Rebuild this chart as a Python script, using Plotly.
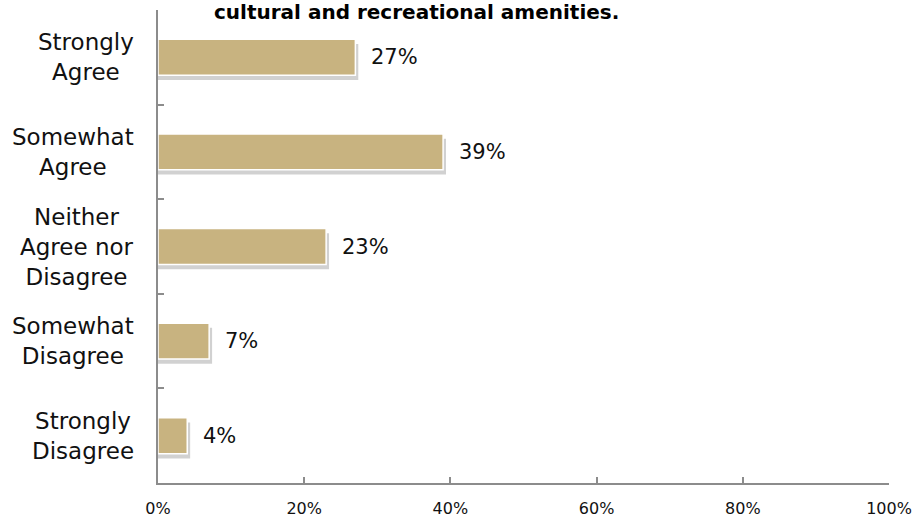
import plotly.graph_objects as go

# Survey responses, top to bottom
categories = ["Strongly Agree", "Somewhat Agree", "Neither Agree nor Disagree",
              "Somewhat Disagree", "Strongly Disagree"]
category_labels = ["Strongly<br>Agree", "Somewhat<br>Agree", "Neither<br>Agree nor<br>Disagree",
                   "Somewhat<br>Disagree", "Strongly<br>Disagree"]
percent_values = [27, 39, 23, 7, 4]
x_ticks = [0, 0.2, 0.4, 0.6, 0.8, 1.0]
x_tick_labels = ["0%", "20%", "40%", "60%", "80%", "100%"]
title_text = "cultural and recreational amenities."

shares = [v / 100 for v in percent_values]

BAR_COLOR = "#C8B380"
AXIS_COLOR = "#8C8C8C"
FONT = "DejaVu Sans"
BAR_WIDTH = 0.38

fig = go.Figure()

# soft drop shadow under each bar
fig.add_trace(go.Bar(
    y=categories, x=[s + 0.004 for s in shares], orientation="h",
    width=BAR_WIDTH, offset=-BAR_WIDTH / 2 + 0.05,
    marker=dict(color="rgba(0,0,0,0.18)", line=dict(width=0)),
    hoverinfo="skip", showlegend=False,
))
# main bars
fig.add_trace(go.Bar(
    y=categories, x=shares, orientation="h",
    width=BAR_WIDTH, offset=-BAR_WIDTH / 2,
    marker=dict(color=BAR_COLOR, line=dict(color="white", width=1.5)),
    showlegend=False,
))

annotations = []
for cat, share, pct in zip(categories, shares, percent_values):
    annotations.append(dict(
        x=share, y=cat, xref="x", yref="y", text=f"{pct}%",
        showarrow=False, xanchor="left", xshift=14,
        font=dict(family=FONT, size=21, color="#111111"),
    ))
for cat, lab in zip(categories, category_labels):
    annotations.append(dict(
        x=0, y=cat, xref="paper", yref="y", text=lab,
        showarrow=False, xanchor="right", align="center", xshift=-22,
        font=dict(family=FONT, size=23, color="#111111"),
    ))
annotations.append(dict(
    x=(416 - 158) / 731, y=1 - (26 - 10) / 473, xref="paper", yref="paper",
    text=f"<b>{title_text}</b>", showarrow=False,
    xanchor="center", yanchor="bottom",
    font=dict(family=FONT, size=20, color="black"),
))

fig.update_layout(
    width=917, height=522,
    margin=dict(l=158, r=28, t=10, b=39, autoexpand=False),
    paper_bgcolor="white", plot_bgcolor="white",
    barmode="overlay",
    annotations=annotations,
    xaxis=dict(
        range=[0, 1], tickvals=x_ticks, ticktext=x_tick_labels,
        showgrid=False, zeroline=False, automargin=False,
        showline=True, linecolor=AXIS_COLOR, linewidth=2,
        ticks="inside", ticklen=6, tickcolor=AXIS_COLOR, tickwidth=1.5,
        ticklabelstandoff=10,
        tickfont=dict(family=FONT, size=16, color="#111111"),
    ),
    yaxis=dict(
        categoryorder="array", categoryarray=categories,
        autorange="reversed", automargin=False,
        showgrid=False, zeroline=False,
        showline=True, linecolor=AXIS_COLOR, linewidth=2,
        ticks="inside", ticklen=6, tickcolor=AXIS_COLOR, tickwidth=1.5,
        tickson="boundaries", showticklabels=False,
    ),
)

fig.write_html("out.html")
